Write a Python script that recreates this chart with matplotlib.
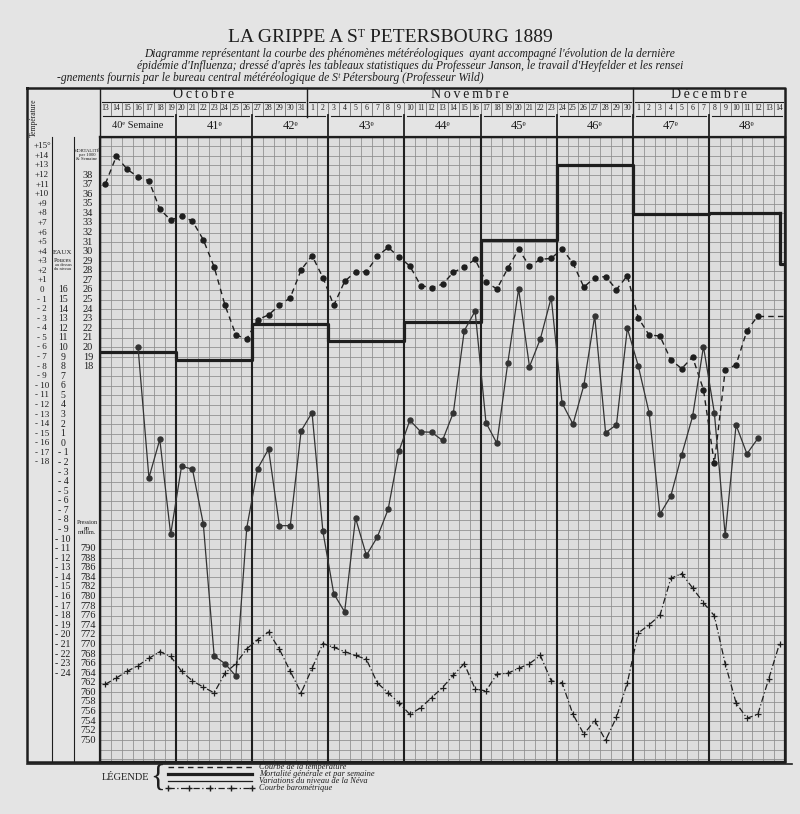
import numpy as np
import matplotlib.pyplot as plt

# --- data ---
# one column per day, 13 Oct .. 14 Dec 1889
months = ['Octobre', 'Novembre', 'Décembre']
month_days = [list(range(13, 32)), list(range(1, 31)), list(range(1, 15))]
weeks = ['40ᵉ Semaine', '41ᵉ', '42ᵉ', '43ᵉ', '44ᵉ', '45ᵉ', '46ᵉ', '47ᵉ', '48ᵉ']

# temperature (deg), 13 Oct .. 12 Dec
temperature = [11.1, 13.95, 12.6, 11.8, 11.4, 8.45, 7.3, 7.7, 7.2, 5.25, 2.4, -1.6,
               -4.7, -5.1, -3.1, -2.6, -1.6, -0.8, 2.1,
               3.6, 1.3, -1.6, 0.9, 1.9, 1.9, 3.5, 4.45, 3.45, 2.5, 0.45, 0.25, 0.6,
               1.85, 2.4, 3.2, 0.85, 0.1, 2.25, 4.25, 2.5, 3.2, 3.3, 4.3, 2.8, 0.3,
               1.3, 1.4, 0.05, 1.5,
               -2.9, -4.7, -4.8, -7.3, -8.2, -7.0, -10.4, -18.1, -8.35, -7.8, -4.25, -2.7]

# Neva level (pouces au dessus du niveau), 16 Oct .. 12 Dec
neva_start = 3
neva = [10.0, -3.6, 0.4, -9.5, -2.4, -2.7, -8.4, -22.2, -23.0, -24.3, -8.8, -2.65,
        -0.6, -8.6, -8.6, 1.3,
        3.2, -9.2, -15.7, -17.6, -7.8, -11.7, -9.8, -6.9, -0.8, 2.4, 1.2, 1.15, 0.3,
        3.2, 11.75, 13.8, 2.15, 0.0, 8.35, 16.1, 8.0, 10.9, 15.2, 4.2, 2.0, 6.05,
        13.3, 1.1, 1.94, 12.0,
        8.1, 3.2, -7.4, -5.5, -1.2, 2.8, 10.1, 3.2, -9.6, 1.9, -1.1, 0.5]

# weekly mortality per 1000 (weeks 40..48), then the drop on 14 Dec
mortality = [19.55, 18.66, 22.4, 20.7, 22.7, 31.2, 39.1, 33.9, 34.0]
mortality_end = 28.7

# barometric pressure (mm), 13 Oct .. 14 Dec
pressure = [761.7, 763.0, 764.4, 765.6, 767.1, 768.5, 767.5, 764.4, 762.4, 761.1,
            759.9, 764.0, 766.0, 769.1, 771.0, 772.6, 769.0, 764.4, 759.9,
            765.0, 770.2, 769.4, 768.5, 767.7, 766.9, 762.0, 759.9, 757.8, 755.4,
            756.8, 758.9, 761.0, 763.6, 766.0, 760.7, 760.3, 763.8, 764.0, 765.0,
            766.0, 767.7, 762.4, 762.0, 755.4, 751.3, 754.1, 750.0, 754.8, 762.0,
            772.4, 774.1, 776.1, 783.8, 784.8, 781.8, 778.7, 776.0, 766.0, 757.8,
            754.6, 755.4, 762.8, 770.2]

temp_ticks = list(range(15, -19, -1))
eaux_ticks = list(range(16, -25, -1))
mort_ticks = list(range(38, 17, -1))
pres_ticks = list(range(790, 749, -2))

# all series share one grid: one row = one degree of temperature
def eaux_y(e):
    return np.asarray(e, dtype=float) - 16

def mort_y(m):
    return np.asarray(m, dtype=float) - 26

def pres_y(p):
    return -27 - (790 - np.asarray(p, dtype=float)) / 2

ndays = sum(len(d) for d in month_days)

# --- layout in pixels ---
W, H = 800, 814
GX0, GX1 = 100, 785        # grid left/right
GY0, GY1 = 137, 762        # grid top/bottom
ROW = 9.58
Y_ZERO = 290               # pixel row of 0 deg
DX = (GX1 - GX0) / ndays
paper = '#e4e4e4'
ink = '#1e1e1e'
gridc = '#8c8c8c'
serif = ['Liberation Serif', 'DejaVu Serif']

def py(t):
    return Y_ZERO - np.asarray(t, dtype=float) * ROW

fig = plt.figure(figsize=(W / 100, H / 100), dpi=100, facecolor=paper)
ax = fig.add_axes([GX0 / W, 1 - GY1 / H, (GX1 - GX0) / W, (GY1 - GY0) / H])
ax.set_facecolor('#dddddd')
ax.set_xlim(-0.5, ndays - 0.5)
ax.set_ylim((Y_ZERO - GY1) / ROW, (Y_ZERO - GY0) / ROW)
ax.set_xticks([])
ax.set_yticks([])
for s in ax.spines.values():
    s.set_linewidth(1.6)
    s.set_color(ink)

# grid paper
for i in range(1, ndays):
    if i % 7 == 0:
        ax.axvline(i - 0.5, color=ink, lw=1.5, zorder=1)
    else:
        ax.axvline(i - 0.5, color=gridc, lw=0.55, zorder=0)
ylo, yhi = ax.get_ylim()
for k in range(int(np.floor(ylo)), int(np.ceil(yhi))):
    ax.axhline(k, color=gridc, lw=0.55, zorder=0)

# mortality (weekly steps)
wx = [7 * k - 0.5 for k in range(len(mortality))] + [ndays - 1]
wy = list(mortality) + [mortality[-1]]
ax.step(wx, mort_y(wy), where='post', color=ink, lw=2.3, zorder=4)
ax.plot([ndays - 1, ndays - 1, ndays - 0.5],
        mort_y([mortality[-1], mortality_end, mortality_end]), color=ink, lw=2.3, zorder=4)

# temperature
td = np.arange(len(temperature))
ax.plot(td, temperature, color=ink, lw=1.0, ls=(0, (4, 3)), marker='o', ms=3.6,
        zorder=5)
ax.plot([td[-1], ndays - 0.5], [temperature[-1], temperature[-1]], color=ink, lw=1.0,
        ls=(0, (4, 3)), zorder=5)

# Neva
nd = np.arange(neva_start, neva_start + len(neva))
ax.plot(nd, eaux_y(neva), color='#333333', lw=0.9, marker='o', ms=3.6, zorder=5)

# pressure
pd_ = np.arange(len(pressure))
ax.plot(pd_, pres_y(pressure), color=ink, lw=0.9, ls=(0, (5, 2, 1, 2)), marker='+',
        ms=5, mew=0.9, zorder=5)

# --- overlay for header, scales, title, legend ---
ov = fig.add_axes([0, 0, 1, 1], facecolor='none')
ov.set_xlim(0, W)
ov.set_ylim(H, 0)
ov.axis('off')

def col(i):
    return GX0 + i * DX

# outer frame
ov.plot([27, GX1, GX1, 27, 27], [88, 88, GY1, GY1, 88], color=ink, lw=1.8)
ov.plot([27, 792], [GY1 + 1.5, GY1 + 1.5], color=ink, lw=1.2)

# header
ov.plot([GX0, GX1], [GY0, GY0], color=ink, lw=1.0)
start = 0
for name, days in zip(months, month_days):
    n = len(days)
    ov.text((col(start) + col(start + n)) / 2, 95, '\u2009'.join(name), ha='center',
            va='center', fontsize=10, family=serif, color=ink)
    ov.plot([col(start) + 2, col(start + n) - 2], [102, 102], color=ink, lw=0.8)
    if start > 0:
        ov.plot([col(start), col(start)], [88, 117], color=ink, lw=1.0)
    for j, d in enumerate(days):
        ov.text(col(start + j + 0.5), 108.5, str(d), ha='center', va='center',
                fontsize=5.6, family=serif, color=ink)
        if j > 0:
            ov.plot([col(start + j), col(start + j)], [102, 115], color='#555', lw=0.5)
    start += n
for k, w in enumerate(weeks):
    a, b = col(7 * k), col(7 * k + 7)
    ov.plot([a + 3, b - 3], [115.5, 115.5], color=ink, lw=0.8)
    ov.text((a + b) / 2, 126, w, ha='center', va='center',
            fontsize=7.5 if k == 0 else 9, family=serif, color=ink)
    if k > 0:
        ov.plot([a, a], [115, GY0], color=ink, lw=1.3)

# left scale columns
ov.plot([52, 52], [137, GY1], color=ink, lw=0.8)
ov.plot([74, 74], [137, GY1], color=ink, lw=0.8)
ov.plot([GX0, GX0], [88, GY1], color=ink, lw=1.0)
ov.text(34, 118, 'Température', rotation=90, ha='center', va='center', fontsize=5.5,
        family=serif, color=ink)
for t in temp_ticks:
    lab = ('+%d°' % t if t == 15 else '+%d' % t) if t > 0 else ('0' if t == 0 else '- %d' % -t)
    ov.text(42, py(t), lab, ha='center', va='center', fontsize=6.5, family=serif,
            color=ink)
ov.text(63, 252, 'EAUX', ha='center', va='center', fontsize=5, family=serif, color=ink)
ov.text(63, 260, 'Pouces', ha='center', va='center', fontsize=4.5, family=serif, color=ink)
ov.text(63, 267, 'au dessus\ndu niveau', ha='center', va='center', fontsize=3.2,
        family=serif, color=ink, linespacing=0.9)
for e in eaux_ticks:
    lab = str(e) if e >= 0 else '- %d' % -e
    ov.text(63, py(eaux_y(e)), lab, ha='center', va='center', fontsize=7, family=serif,
            color=ink)
ov.text(87, 155, 'MORTALITÉ\npar 1000\n& Semaine', ha='center', va='center', fontsize=3.4,
        family=serif, color=ink, linespacing=1.1)
for m in mort_ticks:
    ov.text(88, py(mort_y(m)), str(m), ha='center', va='center', fontsize=7.5,
            family=serif, color=ink)
ov.text(87, 528, 'Pression\nen\nmillim.', ha='center', va='center', fontsize=4.5,
        family=serif, color=ink, linespacing=1.0)
for p in pres_ticks:
    ov.text(88, py(pres_y(p)), str(p), ha='center', va='center', fontsize=7.5,
            family=serif, color=ink)

# title
ov.text(390, 38, 'LA GRIPPE A Sᵀ PETERSBOURG 1889', ha='center', va='center',
        fontsize=14, family=serif, color=ink)
sub = ["Diagramme représentant la courbe des phénomènes météréologiques  ayant accompagné l'évolution de la dernière",
       "épidémie d'Influenza; dressé d'après les tableaux statistiques du Professeur Janson, le travail d'Heyfelder et les rensei",
       "-gnements fournis par le bureau central météréologique de Sᵗ Pétersbourg (Professeur Wild)"]
ov.text(410, 54, sub[0], ha='center', va='center', fontsize=8.3, family=serif,
        style='italic', color=ink)
ov.text(410, 66, sub[1], ha='center', va='center', fontsize=8.3, family=serif,
        style='italic', color=ink)
ov.text(57, 78, sub[2], ha='left', va='center', fontsize=8.3, family=serif,
        style='italic', color=ink)

# legend
ov.text(102, 778, 'LÉGENDE', ha='left', va='center', fontsize=7.5, family=serif,
        color=ink)
ov.text(158, 778, '{', ha='center', va='center', fontsize=22, family=serif, color=ink)
labels = ['Courbe de la température', 'Mortalité générale et par semaine',
          'Variations du niveau de la Néva', 'Courbe barométrique']
styles = [dict(lw=1.0, ls=(0, (4, 3))), dict(lw=2.3), dict(lw=0.9),
          dict(lw=0.9, ls=(0, (5, 2, 1, 2)), marker='+', ms=5, markevery=3)]
for k, (lab, st) in enumerate(zip(labels, styles)):
    yy = 767 + k * 7
    xs = np.linspace(168, 252, 13)
    ov.plot(xs, [yy] * len(xs), color=ink, **st)
    ov.text(259, yy, lab, ha='left', va='center', fontsize=6, family=serif,
            style='italic', color=ink)

fig.savefig('out.png', dpi=100, facecolor=paper)
